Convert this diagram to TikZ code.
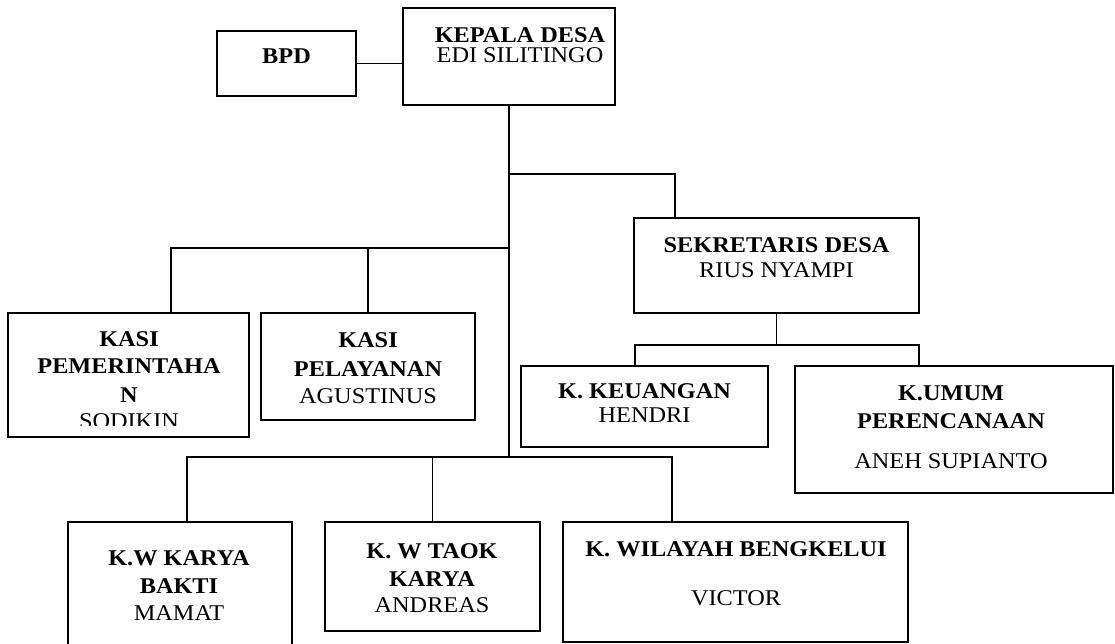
\documentclass[tikz,border=0pt]{standalone}
\usepackage{fontspec}
\setmainfont{Liberation Serif}[FakeStretch=1.08]

\begin{document}
\begin{tikzpicture}[x=1pt, y=-1pt,
        kotak/.style={draw, line width=2.5pt, inner sep=0pt},
        hub/.style={line width=1.1pt},
        hubtebal/.style={line width=2pt},
        teks/.style={anchor=base, inner sep=0pt, text height=15pt, text depth=0pt,
            font=\fontsize{22.5}{24}\selectfont},
        judul/.style={teks, font=\fontsize{22.5}{24}\selectfont\bfseries}]
    \useasboundingbox (0,0) rectangle (1115,643);

    % kotak
    \node[kotak, minimum width=212, minimum height=97] (kades) at (509,56.5) {};
    \node[kotak, minimum width=139, minimum height=65] (bpd) at (286.5,63.5) {};
    \node[kotak, minimum width=285, minimum height=95] (sekdes) at (776.5,265.5) {};
    \node[kotak, minimum width=241, minimum height=124] (kasipem) at (128.5,375) {};
    \node[kotak, minimum width=214, minimum height=107] (kasipel) at (368,366.5) {};
    \node[kotak, minimum width=247, minimum height=81] (keu) at (644.5,406.5) {};
    \node[kotak, minimum width=318, minimum height=127] (umum) at (954,429.5) {};
    \node[kotak, minimum width=224, minimum height=133] (kwkarya) at (180,588.5) {};
    \node[kotak, minimum width=215, minimum height=109] (kwtaok) at (432.5,576.5) {};
    \node[kotak, minimum width=345, minimum height=120] (kwbeng) at (735.5,582) {};

    % teks
    \node[judul] (kadesA) at (520,42) {KEPALA DESA};
    \node[teks] (kadesB) at (520,62.5) {EDI SILITINGO};
    \node[judul] (bpdA) at (286.5,63) {BPD};
    \node[judul] (sekdesA) at (776.5,252) {SEKRETARIS DESA};
    \node[teks] (sekdesB) at (776.5,277) {RIUS NYAMPI};
    \node[judul] (kasipemA) at (129,346) {KASI};
    \node[judul] (kasipemB) at (129,373) {PEMERINTAHA};
    \node[judul] (kasipemC) at (129,402) {N};
    \begin{scope}
        \clip (8,313) rectangle (249,425);
        \node[teks] (kasipemD) at (129,428.5) {SODIKIN};
    \end{scope}
    \node[judul] (kasipelA) at (368,347) {KASI};
    \node[judul] (kasipelB) at (368,376) {PELAYANAN};
    \node[teks] (kasipelC) at (368,403) {AGUSTINUS};
    \node[judul] (keuA) at (644.5,398) {K. KEUANGAN};
    \node[teks] (keuB) at (644.5,422) {HENDRI};
    \node[judul] (umumA) at (951,400) {K.UMUM};
    \node[judul] (umumB) at (951,428) {PERENCANAAN};
    \node[teks] (umumC) at (951,468) {ANEH SUPIANTO};
    \node[judul] (kwkaryaA) at (179,565) {K.W KARYA};
    \node[judul] (kwkaryaB) at (179,593) {BAKTI};
    \node[teks] (kwkaryaC) at (179,620) {MAMAT};
    \node[judul] (kwtaokA) at (432,558) {K. W TAOK};
    \node[judul] (kwtaokB) at (432,586) {KARYA};
    \node[teks] (kwtaokC) at (432,612) {ANDREAS};
    \node[judul] (kwbengA) at (736,556) {K. WILAYAH BENGKELUI};
    \node[teks] (kwbengB) at (736,605) {VICTOR};

    % titik cabang
    \coordinate (bus1) at (509,174);
    \coordinate (bus2) at (509,248);
    \coordinate (bus3) at (509,457);
    \coordinate (bus4) at (776.5,345);

    % garis
    \draw[hub] (bpd.east) -- (kades.west |- bpd.east);
    \draw[hubtebal] (kades.south) -- (bus3);
    \draw[hub] (bus1) -| ([xshift=-101.5pt]sekdes.north);
    \draw[hub] ([xshift=42.5pt]kasipem.north) |- (bus2);
    \draw[hub] (kasipel.north) -- (kasipel.north |- bus2);
    \draw[hub] (sekdes.south) -- (bus4);
    \draw[hub] ([xshift=-9.5pt]keu.north) |- (bus4) -| ([xshift=-35pt]umum.north);
    \draw[hub] ([xshift=7pt]kwkarya.north) |- (bus3) -| ([xshift=-63.5pt]kwbeng.north);
    \draw[hub] (kwtaok.north) -- (kwtaok.north |- bus3);
\end{tikzpicture}
\end{document}
